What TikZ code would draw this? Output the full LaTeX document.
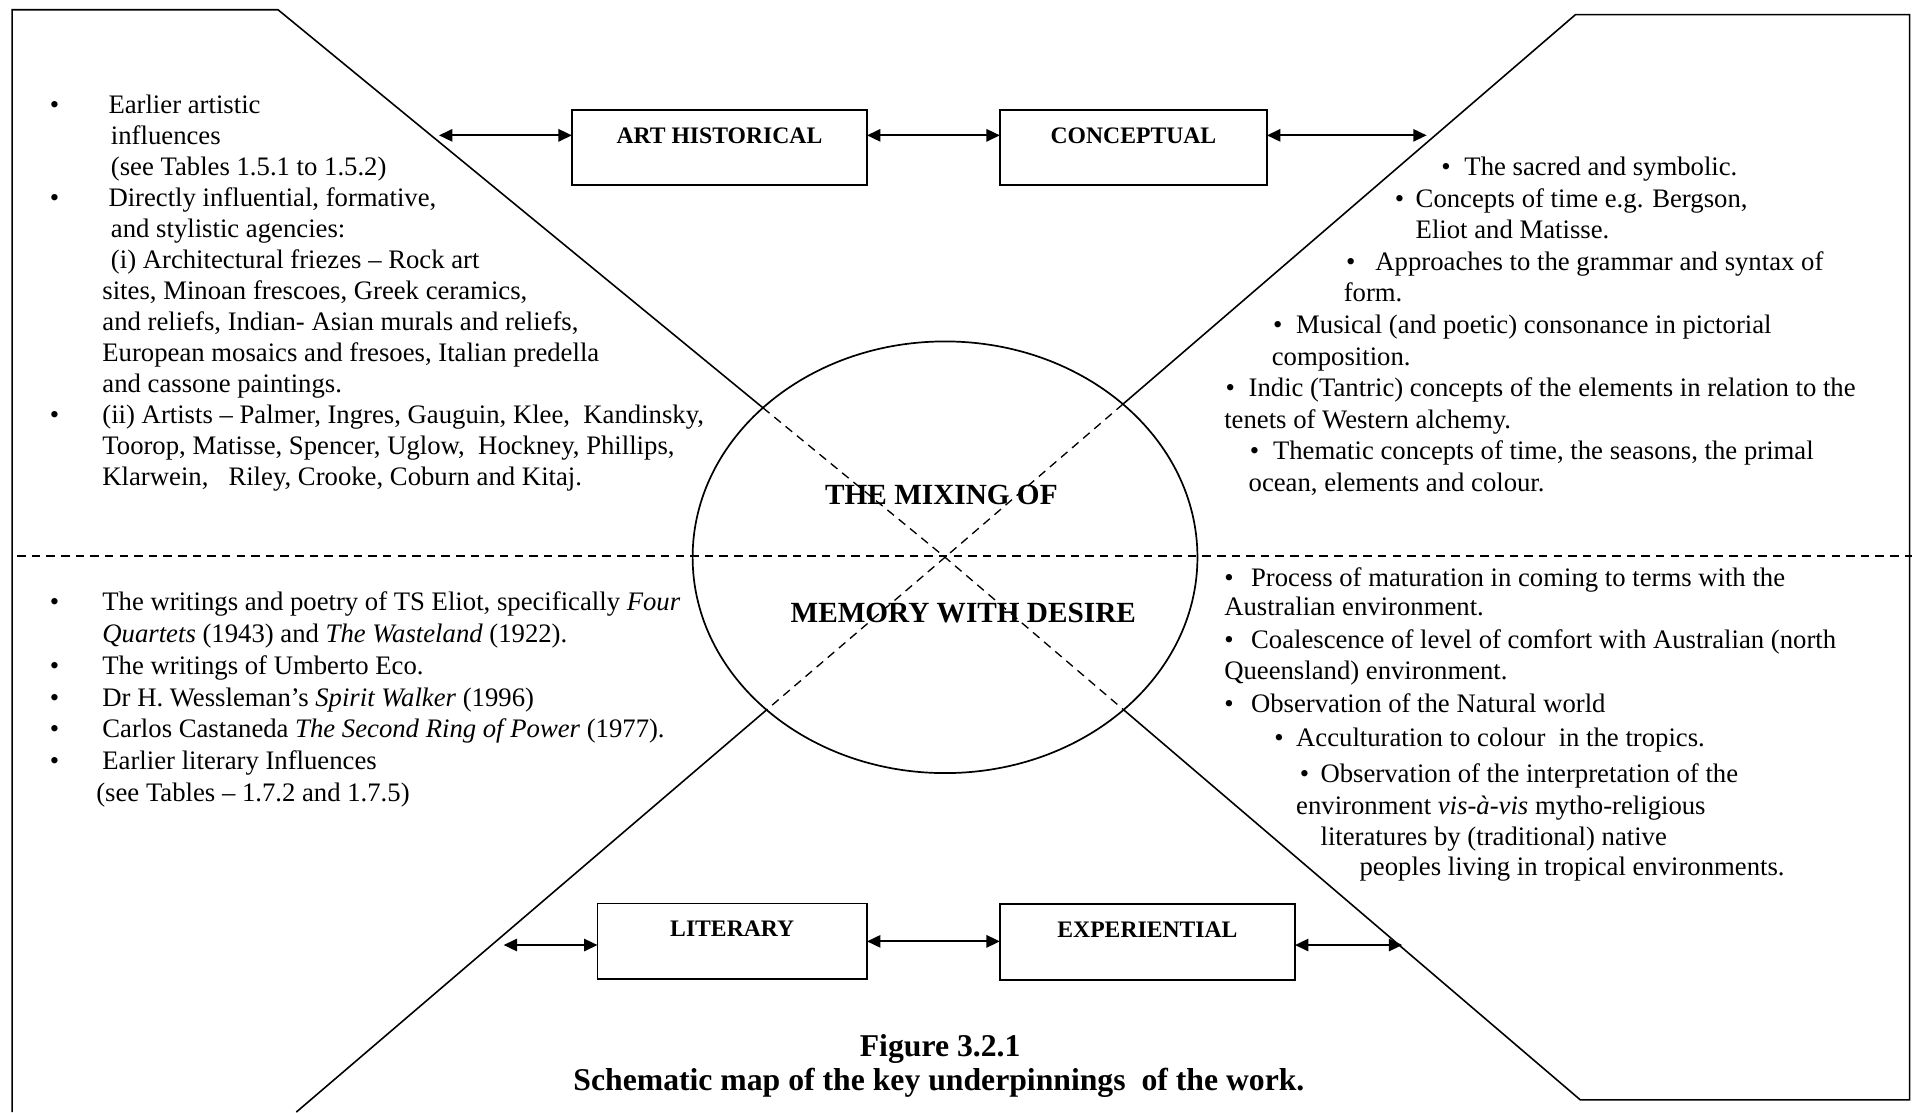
\documentclass[tikz,border=0pt]{standalone}
\usepackage{fontspec}
\setmainfont{Liberation Serif}
\usetikzlibrary{arrows.meta,shapes.geometric}
\begin{document}
\begin{tikzpicture}[x=1pt,y=-1pt,
  every node/.style={inner sep=0pt,outer sep=0pt},
  frame/.style={line width=1.3pt},
  dashline/.style={line width=1.1pt,dash pattern=on 7pt off 5pt},
  labelbox/.style={draw,line width=1.5pt,minimum height=62pt,font=\fontsize{19.4}{22}\selectfont\bfseries},
  link/.style={line width=1.8pt,{Triangle[length=11pt,width=10pt]}-{Triangle[length=11pt,width=10pt]}},
  body/.style={anchor=base west,align=left},
  centre/.style={font=\fontsize{24}{28}\selectfont\bfseries},
  caption/.style={anchor=base,font=\fontsize{26}{28}\selectfont\bfseries}
]
\useasboundingbox (0,0) rectangle (1568,912);

% outline corners
\coordinate (blc) at (10,912);
\coordinate (tlc) at (10,8);
\coordinate (tlA) at (228,8);
\coordinate (brA) at (1296,902);
\coordinate (brc) at (1566,902);
\coordinate (trc) at (1566,12);
\coordinate (trB) at (1292,12);
\coordinate (blB) at (243,912);

% central ellipse
\node[ellipse,draw,line width=1.4pt,minimum width=414pt,minimum height=354pt] (ell) at (775,457) {};

% border points on the ellipse
\path (tlA) -- (ell) coordinate[pos=1] (p1);
\path (trB) -- (ell) coordinate[pos=1] (p2);
\path (blB) -- (ell) coordinate[pos=1] (p3);
\path (brA) -- (ell) coordinate[pos=1] (p4);

% solid outline
\draw[frame] (blc) -- (tlc) -- (tlA) -- (p1);
\draw[frame] (p4) -- (brA) -- (brc) -- (trc) -- (trB) -- (p2);
\draw[frame] (p3) -- (blB);

% dashed cross and horizontal
\draw[dashline] (p1) -- (ell.center) -- (p4);
\draw[dashline] (p2) -- (ell.center) -- (p3);
\coordinate (hdL) at (14,456);
\coordinate (hdR) at (1568,456);
\draw[dashline] (hdL) -- (hdR);

% centre text
\node[centre] (mix1) at (772,406) {THE MIXING OF};
\node[centre] (mix2) at (790,503) {MEMORY WITH DESIRE};

% boxes
\node[labelbox,minimum width=242pt] (art) at (590,121) {\raisebox{20pt}{ART HISTORICAL}};
\node[labelbox,minimum width=219pt] (conc) at (929.5,121) {\raisebox{20pt}{CONCEPTUAL}};
\node[labelbox,minimum width=221pt] (lit) at (600.5,772) {\raisebox{20pt}{LITERARY}};
\node[labelbox,minimum width=242pt] (exp) at (941,772.5) {\raisebox{20pt}{EXPERIENTIAL}};

% arrows
\coordinate (artL) at (360,111);
\coordinate (concR) at (1170,111);
\coordinate (litL) at (413,775);
\coordinate (expR) at (1150,775);
\draw[link] (artL) -- (art.west |- artL);
\draw[link] (art.east |- artL) -- (conc.west |- artL);
\draw[link] (conc.east |- concR) -- (concR);
\draw[link] (litL) -- (lit.west |- litL);
\draw[link] (lit.east) -- (exp.west |- lit.east);
\draw[link] (exp.east |- expR) -- (expR);

% top-left text (anchored at the baseline of its last line)
\node[body,font=\fontsize{21.9}{25.4}\selectfont] (tltext) at (41,398) {%
\makebox[48pt][l]{\textbullet}Earlier artistic\\
\hspace*{50pt}influences\\
\hspace*{50pt}(see Tables 1.5.1 to 1.5.2)\\
\makebox[48pt][l]{\textbullet}Directly influential, formative,\\
\hspace*{50pt}and stylistic agencies:\\
\hspace*{50pt}(i) Architectural friezes – Rock art\\
\hspace*{43pt}sites, Minoan frescoes, Greek ceramics,\\
\hspace*{43pt}and reliefs, Indian- Asian murals and reliefs,\\
\hspace*{43pt}European mosaics and fresoes, Italian predella\\
\hspace*{43pt}and cassone paintings.\\
\makebox[43pt][l]{\textbullet}(ii) Artists – Palmer, Ingres, Gauguin, Klee,\ \ Kandinsky,\\
\hspace*{43pt}Toorop, Matisse, Spencer, Uglow,\ \ Hockney, Phillips,\\
\hspace*{43pt}Klarwein,\ \ \ Riley, Crooke, Coburn and Kitaj.};

% top-right text
\node[body,font=\fontsize{21.9}{25.9}\selectfont] (trtext) at (1004,403) {%
\hspace*{178pt}\makebox[19pt][l]{\textbullet}The sacred and symbolic.\\
\hspace*{140pt}\makebox[17pt][l]{\textbullet}Concepts of time e.g. Bergson,\\
\hspace*{157pt}Eliot and Matisse.\\
\hspace*{100pt}\makebox[24pt][l]{\textbullet}Approaches to the grammar and syntax of\\
\hspace*{98pt}form.\\
\hspace*{40pt}\makebox[19pt][l]{\textbullet}Musical (and poetic) consonance in pictorial\\
\hspace*{39pt}composition.\\
\hspace*{1pt}\makebox[19pt][l]{\textbullet}Indic (Tantric) concepts of the elements in relation to the\\
tenets of Western alchemy.\\
\hspace*{21pt}\makebox[19pt][l]{\textbullet}Thematic concepts of time, the seasons, the primal\\
\hspace*{20pt}ocean, elements and colour.};

% bottom-left text
\node[body,font=\fontsize{21.9}{26}\selectfont] (bltext) at (41,657) {%
\makebox[43pt][l]{\textbullet}The writings and poetry of TS Eliot, specifically \textit{Four}\\
\hspace*{43pt}\textit{Quartets} (1943) and \textit{The Wasteland} (1922).\\
\makebox[43pt][l]{\textbullet}The writings of Umberto Eco.\\
\makebox[43pt][l]{\textbullet}Dr H. Wessleman’s \textit{Spirit Walker} (1996)\\
\makebox[43pt][l]{\textbullet}Carlos Castaneda \textit{The Second Ring of Power} (1977).\\
\makebox[43pt][l]{\textbullet}Earlier literary Influences\\
\hspace*{38pt}(see Tables – 1.7.2 and 1.7.5)};

% bottom-right text
\node[body,font=\fontsize{21.9}{25.4}\selectfont] (brtext) at (1004,718) {%
\makebox[22pt][l]{\textbullet}Process of maturation in coming to terms with the\\[-1.4pt]
Australian environment.\\[1.6pt]
\makebox[22pt][l]{\textbullet}Coalescence of level of comfort with Australian (north\\[-0.4pt]
Queensland) environment.\\[1.6pt]
\makebox[22pt][l]{\textbullet}Observation of the Natural world\\[2.6pt]
\hspace*{41pt}\makebox[18pt][l]{\textbullet}Acculturation to colour\ \ in the tropics.\\[4.6pt]
\hspace*{62pt}\makebox[17pt][l]{\textbullet}Observation of the interpretation of the\\[0.6pt]
\hspace*{59pt}environment \textit{vis-à-vis} mytho-religious\\[-0.4pt]
\hspace*{79pt}literatures by (traditional) native\\[-0.4pt]
\hspace*{111pt}peoples living in tropical environments.};

% caption
\node[caption] (fig) at (771,866) {Figure 3.2.1};
\node[caption] (cap) at (770,894) {Schematic map of the key underpinnings\ \ of the work.};
\end{tikzpicture}
\end{document}
